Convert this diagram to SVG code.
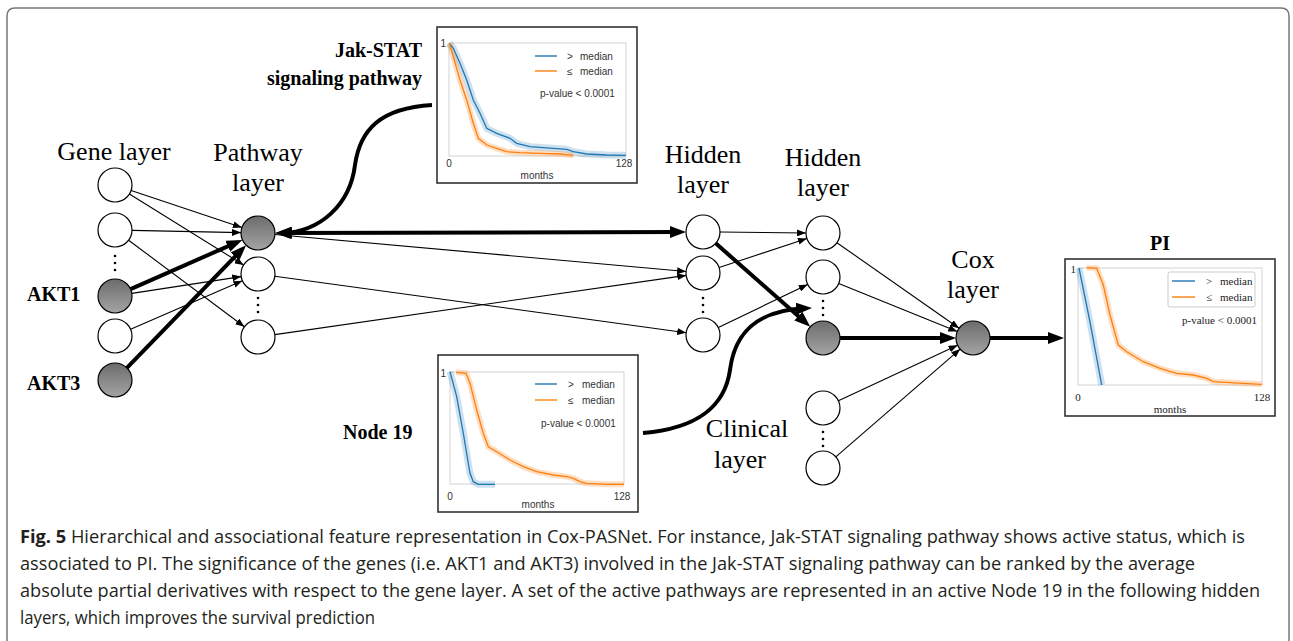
<svg xmlns="http://www.w3.org/2000/svg" width="1293" height="641" viewBox="0 0 1293 641">
  <defs>
    <linearGradient id="gray" x1="0" y1="0" x2="0" y2="1">
      <stop offset="0" stop-color="#6c6c6c"/>
      <stop offset="1" stop-color="#a4a4a4"/>
    </linearGradient>
    <marker id="ah" markerUnits="userSpaceOnUse" viewBox="0 0 9 7" markerWidth="9" markerHeight="7" refX="9" refY="3.5" orient="auto">
      <path d="M0,0 L9,3.5 L0,7 z" fill="#000"/>
    </marker>
    <marker id="ahB" markerUnits="userSpaceOnUse" viewBox="0 0 16 12" markerWidth="16" markerHeight="12" refX="10" refY="6" orient="auto-start-reverse">
      <path d="M0,0 L16,6 L0,12 z" fill="#000"/>
    </marker>
    <style>
      .node { fill: #fff; stroke: #000; stroke-width: 1.2; }
      .act { fill: url(#gray); stroke: #000; stroke-width: 1.2; }
      .thin { stroke: #000; stroke-width: 1.1; fill: none; marker-end: url(#ah); }
      .thick { stroke: #000; stroke-width: 4; fill: none; marker-end: url(#ahB); }
      .dots { fill: #000; }
      .lbl { font-family: "Liberation Serif", "Times New Roman", serif; font-size: 26px; text-anchor: middle; fill: #000; }
      .blbl { font-family: "Liberation Serif", "Times New Roman", serif; font-size: 20px; font-weight: bold; fill: #000; }
      .box { fill: #fff; stroke: #333; stroke-width: 1.6; }
      .axes { fill: none; stroke: #d4d4d4; stroke-width: 1; }
      .ax { font-family: "Liberation Sans", Arial, sans-serif; font-size: 10px; fill: #333; }
      .axs { font-family: "Liberation Serif", "Times New Roman", serif; font-size: 11px; fill: #222; }
      .blue { fill: none; stroke: #1f77b4; stroke-width: 1.3; }
      .orange { fill: none; stroke: #ff7f0e; stroke-width: 1.3; }
      .bband { fill: none; stroke: #1f77b4; stroke-opacity: 0.22; stroke-width: 7; stroke-linejoin: round; }
      .oband { fill: none; stroke: #ff7f0e; stroke-opacity: 0.25; stroke-width: 6; stroke-linejoin: round; }
      .cap { font-family: "Open Sans", "Noto Sans", sans-serif; font-size: 18.5px; fill: #231f20; }
    </style>
  </defs>

  <rect width="1293" height="641" fill="#fff"/>
  <!-- figure frame, open at the bottom -->
  <path d="M7,641 V16 Q7,8 15,8 H1281 Q1289,8 1289,16 V641" fill="none" stroke="#777" stroke-width="1.5"/>

  <!-- layer titles -->
  <g id="titles">
    <text class="lbl" x="114" y="160">Gene layer</text>
    <text class="lbl" x="258" y="161">Pathway</text>
    <text class="lbl" x="258" y="191">layer</text>
    <text class="lbl" x="703" y="163">Hidden</text>
    <text class="lbl" x="703" y="193">layer</text>
    <text class="lbl" x="823" y="166">Hidden</text>
    <text class="lbl" x="823" y="196">layer</text>
    <text class="lbl" x="973" y="268">Cox</text>
    <text class="lbl" x="973" y="298">layer</text>
    <text class="lbl" x="747" y="437">Clinical</text>
    <text class="lbl" x="740" y="468">layer</text>
    <text class="blbl" x="422" y="57" text-anchor="end">Jak-STAT</text>
    <text class="blbl" x="422" y="85" text-anchor="end">signaling pathway</text>
    <text class="blbl" x="27" y="301" font-size="21">AKT1</text>
    <text class="blbl" x="27" y="390" font-size="21">AKT3</text>
    <text class="blbl" x="343" y="439">Node 19</text>
    <text class="blbl" x="1160" y="250" text-anchor="middle" font-size="28">PI</text>
  </g>

  <!-- connectors -->
  <g id="connectors">
    <!-- gene layer to pathway layer -->
    <line class="thin" x1="131.1" y1="190.4" x2="241.9" y2="227.6"/>
    <line class="thin" x1="129.4" y1="194" x2="243.6" y2="265"/>
    <line class="thin" x1="132" y1="230.4" x2="241" y2="232.6"/>
    <line class="thin" x1="128.6" y1="240.2" x2="244.4" y2="326.8"/>
    <line class="thin" x1="131.8" y1="293.4" x2="241.2" y2="276.6"/>
    <line class="thin" x1="130.6" y1="329.2" x2="242.4" y2="280.8"/>
    <line class="thick" x1="130.6" y1="289.1" x2="236.9" y2="242.3"/>
    <line class="thick" x1="126.9" y1="367.8" x2="241.9" y2="249.5"/>
    <!-- pathway layer to first hidden layer -->
    <line class="thick" x1="281" y1="233" x2="680" y2="232" marker-start="url(#ahB)"/>
    <line class="thin" x1="274.9" y1="234.5" x2="686.1" y2="271.5"/>
    <line class="thin" x1="274.8" y1="276.3" x2="686.2" y2="332.7"/>
    <line class="thin" x1="274.8" y1="334.6" x2="686.2" y2="275.4"/>
    <!-- first to second hidden layer -->
    <line class="thin" x1="720" y1="232" x2="806" y2="233"/>
    <line class="thin" x1="719.1" y1="267.6" x2="806.9" y2="238.4"/>
    <line class="thin" x1="718.3" y1="327.6" x2="807.7" y2="284.4"/>
    <line class="thick" x1="715.7" y1="243.3" x2="805.8" y2="322.7"/>
    <!-- second hidden and clinical layers to Cox layer -->
    <line class="thin" x1="836.9" y1="242.7" x2="959.1" y2="328.3"/>
    <line class="thin" x1="838.7" y1="283.4" x2="957.3" y2="331.6"/>
    <line class="thin" x1="838.4" y1="400.8" x2="957.6" y2="345.2"/>
    <line class="thin" x1="835.8" y1="456.9" x2="960.2" y2="349.1"/>
    <line class="thick" x1="840" y1="338" x2="950" y2="338"/>
    <line class="thick" x1="990" y1="338" x2="1058" y2="338"/>
    <!-- callout curves from the survival plots -->
    <path class="thick" d="M432,105 C380,108 360,130 355,165 C350,205 320,232 282,233"/>
    <path class="thick" d="M643,433 C700,428 725,405 730,370 C735,330 760,310 806,308.3"/>
  </g>

  <!-- gene layer -->
  <g id="gene-layer">
    <circle class="node" cx="115" cy="185" r="17"/>
    <circle class="node" cx="115" cy="230" r="17"/>
    <circle class="dots" cx="115" cy="256" r="1.3"/>
    <circle class="dots" cx="115" cy="263" r="1.3"/>
    <circle class="dots" cx="115" cy="270" r="1.3"/>
    <circle class="act" cx="115" cy="296" r="17"/>
    <circle class="node" cx="115" cy="336" r="17"/>
    <circle class="act" cx="115" cy="380" r="17"/>
  </g>

  <!-- pathway layer -->
  <g id="pathway-layer">
    <circle class="act" cx="258" cy="233" r="17"/>
    <circle class="node" cx="258" cy="274" r="17"/>
    <circle class="dots" cx="258" cy="298" r="1.3"/>
    <circle class="dots" cx="258" cy="305" r="1.3"/>
    <circle class="dots" cx="258" cy="312" r="1.3"/>
    <circle class="node" cx="258" cy="337" r="17"/>
  </g>

  <!-- first hidden layer -->
  <g id="hidden-layer-1">
    <circle class="node" cx="703" cy="232" r="17"/>
    <circle class="node" cx="703" cy="273" r="17"/>
    <circle class="dots" cx="703" cy="298" r="1.3"/>
    <circle class="dots" cx="703" cy="305" r="1.3"/>
    <circle class="dots" cx="703" cy="312" r="1.3"/>
    <circle class="node" cx="703" cy="335" r="17"/>
  </g>

  <!-- second hidden layer -->
  <g id="hidden-layer-2">
    <circle class="node" cx="823" cy="233" r="17"/>
    <circle class="node" cx="823" cy="277" r="17"/>
    <circle class="dots" cx="823" cy="301" r="1.3"/>
    <circle class="dots" cx="823" cy="308" r="1.3"/>
    <circle class="dots" cx="823" cy="315" r="1.3"/>
    <circle class="act" cx="823" cy="338" r="17"/>
  </g>

  <!-- clinical layer -->
  <g id="clinical-layer">
    <circle class="node" cx="823" cy="408" r="17"/>
    <circle class="dots" cx="823" cy="432" r="1.3"/>
    <circle class="dots" cx="823" cy="439" r="1.3"/>
    <circle class="dots" cx="823" cy="446" r="1.3"/>
    <circle class="node" cx="823" cy="468" r="17"/>
  </g>

  <!-- Cox layer -->
  <g id="cox-layer">
    <circle class="act" cx="973" cy="338" r="17"/>
  </g>

  <!-- Kaplan-Meier plot: Jak-STAT signaling pathway -->
  <g id="plot-jakstat">
    <rect class="box" x="437" y="27" width="200" height="156"/>
    <rect class="axes" x="449" y="43" width="177" height="113"/>
    <polyline class="bband" points="449.3,43.3 453.3,48.3 460,63.3 466.7,80 473.3,100 480,113.3 486.7,128.3 496.7,133.3 510,138.3 516.7,143.3 530,146.7 553.3,148.3 566.7,149.3 573.3,151.7 586.7,154 606.7,155 626,155.3"/>
    <polyline class="oband" points="449.3,43.3 453.3,56.7 460,80 466.7,100 473.3,123.3 478.3,138.3 486.7,145 496.7,148.3 506.7,151.7 520,152.7 540,153.3 560,154 573.3,155.3"/>
    <polyline class="blue" points="449.3,43.3 453.3,48.3 460,63.3 466.7,80 473.3,100 480,113.3 486.7,128.3 496.7,133.3 510,138.3 516.7,143.3 530,146.7 553.3,148.3 566.7,149.3 573.3,151.7 586.7,154 606.7,155 626,155.3"/>
    <polyline class="orange" points="449.3,43.3 453.3,56.7 460,80 466.7,100 473.3,123.3 478.3,138.3 486.7,145 496.7,148.3 506.7,151.7 520,152.7 540,153.3 560,154 573.3,155.3"/>
    <line x1="535" y1="56" x2="557" y2="56" stroke="#1f77b4" stroke-width="1.4"/>
    <line x1="535" y1="71" x2="557" y2="71" stroke="#ff7f0e" stroke-width="1.4"/>
    <text class="ax" x="567" y="60">&gt;<tspan x="580">median</tspan></text>
    <text class="ax" x="567" y="75">≤<tspan x="580">median</tspan></text>
    <text class="ax" x="540" y="97">p-value &lt; 0.0001</text>
    <text class="ax" x="446" y="47" text-anchor="end">1</text>
    <text class="ax" x="449" y="167" text-anchor="middle">0</text>
    <text class="ax" x="624" y="167" text-anchor="middle">128</text>
    <text class="ax" x="537" y="179" text-anchor="middle">months</text>
  </g>

  <!-- Kaplan-Meier plot: Node 19 -->
  <g id="plot-node19">
    <rect class="box" x="438" y="355" width="200" height="157"/>
    <rect class="axes" x="450" y="372" width="174" height="112"/>
    <polyline class="bband" points="450,371.7 456.7,396.7 463.3,433.3 470,473.3 473.3,481.7 478.3,484.3 495,484.3"/>
    <polyline class="oband" points="456,372.3 466,373.3 470,383.3 476.7,410 483.3,433.3 488.3,446.7 496.7,451.7 510,460 523.3,466.7 536.7,471.7 553.3,475 566.7,476.7 573.3,478.3 580,481.7 586.7,483.3 606.7,484.3 624,484.3"/>
    <polyline class="blue" points="450,371.7 456.7,396.7 463.3,433.3 470,473.3 473.3,481.7 478.3,484.3 495,484.3"/>
    <polyline class="orange" points="456,372.3 466,373.3 470,383.3 476.7,410 483.3,433.3 488.3,446.7 496.7,451.7 510,460 523.3,466.7 536.7,471.7 553.3,475 566.7,476.7 573.3,478.3 580,481.7 586.7,483.3 606.7,484.3 624,484.3"/>
    <line x1="535" y1="384" x2="557" y2="384" stroke="#1f77b4" stroke-width="1.4"/>
    <line x1="535" y1="400" x2="557" y2="400" stroke="#ff7f0e" stroke-width="1.4"/>
    <text class="ax" x="568" y="388">&gt;<tspan x="582">median</tspan></text>
    <text class="ax" x="568" y="404">≤<tspan x="582">median</tspan></text>
    <text class="ax" x="541" y="427">p-value &lt; 0.0001</text>
    <text class="ax" x="446" y="377" text-anchor="end">1</text>
    <text class="ax" x="450" y="500" text-anchor="middle">0</text>
    <text class="ax" x="622" y="500" text-anchor="middle">128</text>
    <text class="ax" x="538" y="508" text-anchor="middle">months</text>
  </g>

  <!-- Kaplan-Meier plot: prognostic index -->
  <g id="plot-pi">
    <rect class="box" x="1065" y="259" width="210" height="157"/>
    <rect class="axes" x="1078" y="268" width="184" height="117"/>
    <rect x="1168" y="272" width="87" height="35" rx="2" fill="#fff" stroke="#ccc" stroke-width="1"/>
    <polyline class="bband" points="1079,268 1090,322 1101.7,385"/>
    <polyline class="oband" points="1086.7,267.7 1096.7,268.3 1103.3,285 1110,315 1118.3,345 1126.7,351.7 1143.3,361.7 1160,368.3 1176.7,373.3 1193.3,375 1206.7,378.3 1213.3,381.7 1243.3,383.3 1261.7,384.3"/>
    <polyline class="blue" points="1079,268 1090,322 1101.7,385"/>
    <polyline class="orange" points="1086.7,267.7 1096.7,268.3 1103.3,285 1110,315 1118.3,345 1126.7,351.7 1143.3,361.7 1160,368.3 1176.7,373.3 1193.3,375 1206.7,378.3 1213.3,381.7 1243.3,383.3 1261.7,384.3"/>
    <line x1="1172" y1="281" x2="1195" y2="281" stroke="#1f77b4" stroke-width="1.4"/>
    <line x1="1172" y1="297" x2="1195" y2="297" stroke="#ff7f0e" stroke-width="1.4"/>
    <text class="axs" x="1206" y="285">&gt;<tspan x="1220">median</tspan></text>
    <text class="axs" x="1206" y="301">≤<tspan x="1220">median</tspan></text>
    <text class="axs" x="1182" y="324">p-value &lt; 0.0001</text>
    <text class="axs" x="1076" y="273" text-anchor="end">1</text>
    <text class="axs" x="1078" y="401" text-anchor="middle">0</text>
    <text class="axs" x="1262" y="401" text-anchor="middle">128</text>
    <text class="axs" x="1170" y="413" text-anchor="middle">months</text>
  </g>

  <!-- caption -->
  <g id="caption">
    <text class="cap" x="20" y="543" textLength="1225" lengthAdjust="spacingAndGlyphs"><tspan font-weight="bold">Fig. 5</tspan> Hierarchical and associational feature representation in Cox-PASNet. For instance, Jak-STAT signaling pathway shows active status, which is</text>
    <text class="cap" x="20" y="570" textLength="1175" lengthAdjust="spacingAndGlyphs">associated to PI. The significance of the genes (i.e. AKT1 and AKT3) involved in the Jak-STAT signaling pathway can be ranked by the average</text>
    <text class="cap" x="20" y="597" textLength="1240" lengthAdjust="spacingAndGlyphs">absolute partial derivatives with respect to the gene layer. A set of the active pathways are represented in an active Node 19 in the following hidden</text>
    <text class="cap" x="20" y="624" textLength="355" lengthAdjust="spacingAndGlyphs">layers, which improves the survival prediction</text>
  </g>
</svg>
